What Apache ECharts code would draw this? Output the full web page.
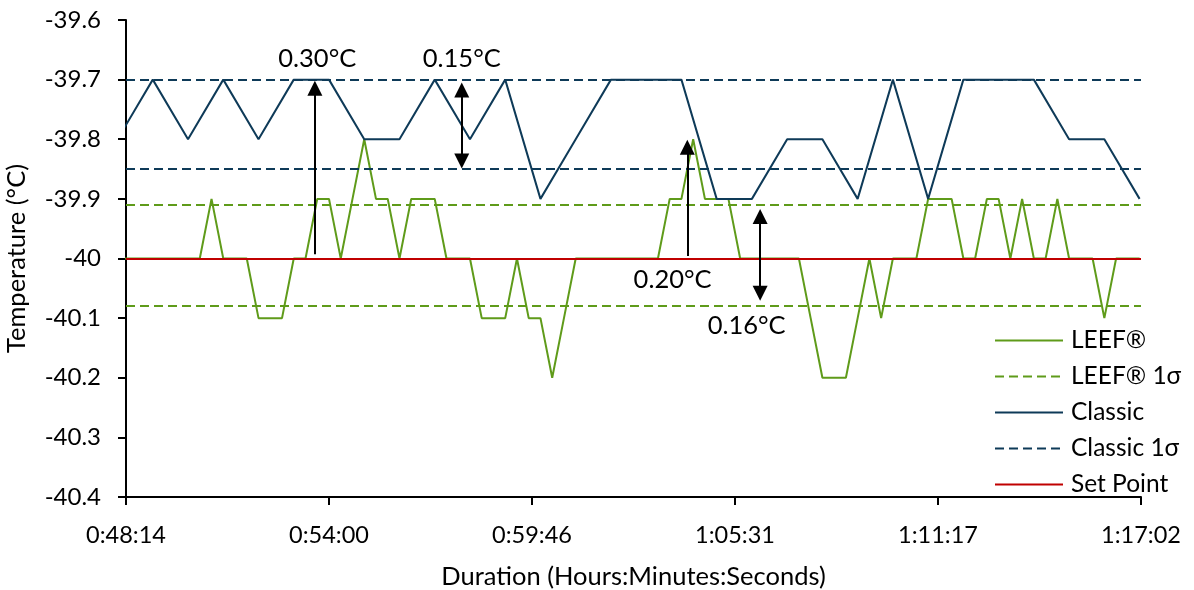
<!DOCTYPE html>
<html>
<head>
<meta charset="utf-8">
<script src="https://cdn.jsdelivr.net/npm/echarts@6/dist/echarts.min.js"></script>
<style>
html,body{margin:0;padding:0;background:#fff;}
#chart{width:1194px;height:590px;}
</style>
</head>
<body>
<div id="chart"></div>
<script>
// ---- data ----
const leefTimes = ["0:48:00","0:48:20","0:48:40","0:49:00","0:49:20","0:49:40","0:50:00","0:50:20","0:50:40","0:51:00",
"0:51:20","0:51:40","0:52:00","0:52:20","0:52:40","0:53:00","0:53:20","0:53:40","0:54:00","0:54:20",
"0:54:40","0:55:00","0:55:20","0:55:40","0:56:00","0:56:20","0:56:40","0:57:00","0:57:20","0:57:40",
"0:58:00","0:58:20","0:58:40","0:59:00","0:59:20","0:59:40","1:00:00","1:00:20","1:00:40","1:01:00",
"1:01:20","1:01:40","1:02:00","1:02:20","1:02:40","1:03:00","1:03:20","1:03:40","1:04:00","1:04:20",
"1:04:40","1:05:00","1:05:20","1:05:40","1:06:00","1:06:20","1:06:40","1:07:00","1:07:20","1:07:40",
"1:08:00","1:08:20","1:08:40","1:09:00","1:09:20","1:09:40","1:10:00","1:10:20","1:10:40","1:11:00",
"1:11:20","1:11:40","1:12:00","1:12:20","1:12:40","1:13:00","1:13:20","1:13:40","1:14:00","1:14:20",
"1:14:40","1:15:00","1:15:20","1:15:40","1:16:00","1:16:20","1:16:40","1:17:00"];
const leefValues = [-40,-40,-40,-40,-40,-40,-40,-40,-39.9,-40,
-40,-40,-40.1,-40.1,-40.1,-40,-40,-39.9,-39.9,-40,
-39.9,-39.8,-39.9,-39.9,-40,-39.9,-39.9,-39.9,-40,-40,
-40,-40.1,-40.1,-40.1,-40,-40.1,-40.1,-40.2,-40.1,-40,
-40,-40,-40,-40,-40,-40,-40,-39.9,-39.9,-39.8,
-39.9,-39.9,-39.9,-40,-40,-40,-40,-40,-40,-40.1,
-40.2,-40.2,-40.2,-40.1,-40,-40.1,-40,-40,-40,-39.9,
-39.9,-39.9,-40,-40,-39.9,-39.9,-40,-39.9,-40,-40,
-39.9,-40,-40,-40,-40.1,-40,-40,-40];
const classicTimes = ["0:48:00","0:49:00","0:50:00","0:51:00","0:52:00","0:53:00","0:54:00","0:55:00","0:56:00","0:57:00",
"0:58:00","0:59:00","1:00:00","1:01:00","1:02:00","1:03:00","1:04:00","1:05:00","1:06:00","1:07:00",
"1:08:00","1:09:00","1:10:00","1:11:00","1:12:00","1:13:00","1:14:00","1:15:00","1:16:00","1:17:00"];
const classicValues = [-39.8,-39.7,-39.8,-39.7,-39.8,-39.7,-39.7,-39.8,-39.8,-39.7,
-39.8,-39.7,-39.9,-39.8,-39.7,-39.7,-39.7,-39.9,-39.9,-39.8,
-39.8,-39.9,-39.7,-39.9,-39.7,-39.7,-39.7,-39.8,-39.8,-39.9];
const leefSigma = [-39.914, -40.077];
const classicSigma = [-39.701, -39.855];
const setPoint = -40;
const seriesNames = ["LEEF®","LEEF® 1σ","Classic","Classic 1σ","Set Point"];
// x axis: starts at 0:48:14.4, major unit 0:05:45.6
const xAxisStart = "0:48:14.4";
const xAxisSpan = "0:28:48";
const xAxisStep = "0:05:45.6";
const yTicks = [-40.4,-40.3,-40.2,-40.1,-40,-39.9,-39.8,-39.7,-39.6];
// annotations: [time, from, to, label, labelTime, labelValue, doubleHeaded]
const annotations = [
  ["0:53:36", -39.993, -39.702, "0.30°C", "0:53:40", -39.665, false],
  ["0:57:46", -39.849, -39.705, "0.15°C", "0:57:46", -39.665, true],
  ["1:04:10", -39.996, -39.801, "0.20°C", "1:03:45", -40.036, false],
  ["1:06:14", -40.071, -39.917, "0.16°C", "1:05:51", -40.113, true]
];

// ---- helpers ----
function toSec(s){const p=s.split(':').map(Number);return p[0]*3600+p[1]*60+p[2];}
const x0 = toSec(xAxisStart);
function rel(s){return toSec(s)-x0;}
function fmt(v){let t=Math.round(v+x0);const h=Math.floor(t/3600);t-=h*3600;const m=Math.floor(t/60);const s=t-m*60;
  return h+':'+String(m).padStart(2,'0')+':'+String(s).padStart(2,'0');}

const GREEN='#5f9b1a', NAVY='#0e3a58', RED='#c00000';
const FONT='Lato';
const yPerPx = 0.8/478; // only for arrow tip offset
const arrowSize = 15;

const chart = echarts.init(document.getElementById('chart'), null, {renderer:'canvas'});

const arrowLines = annotations.map(a => {
  const half = arrowSize/2*yPerPx;
  const dir = a[2] > a[1] ? 1 : -1;
  const from = a[6] ? a[1] + dir*half : a[1];
  const to = a[2] - dir*half;
  return [{coord:[rel(a[0]), from], symbol: a[6] ? 'triangle' : 'none'},
          {coord:[rel(a[0]), to], symbol:'triangle'}];
});
const labelPoints = annotations.map(a => ({coord:[rel(a[4]), a[5]], value:a[3]}));

const option = {
  animation:false,
  backgroundColor:'#fff',
  textStyle:{fontFamily:FONT},
  grid:{left:126, right:53, top:20, bottom:93, containLabel:false, outerBoundsMode:'none'},
  xAxis:{
    type:'value', min:0, max:toSec(xAxisSpan), interval:toSec(xAxisStep)-0,
    name:'Duration (Hours:Minutes:Seconds)', nameLocation:'middle', nameGap:67,
    nameTextStyle:{fontSize:25.5, color:'#000', fontFamily:FONT},
    axisLine:{show:true, onZero:false, lineStyle:{color:'#000', width:2}},
    axisTick:{show:true, inside:false, length:8, lineStyle:{color:'#000', width:2}},
    axisLabel:{formatter:fmt, fontSize:23.5, color:'#000', margin:26, fontFamily:FONT},
    splitLine:{show:false}
  },
  yAxis:{
    type:'value', min:yTicks[0], max:yTicks[yTicks.length-1], interval:0.1,
    name:'Temperature (°C)', nameLocation:'middle', nameGap:96,
    nameTextStyle:{fontSize:25.5, color:'#000', fontFamily:FONT},
    axisLine:{show:true, lineStyle:{color:'#000', width:2}},
    axisTick:{show:true, inside:false, length:8, lineStyle:{color:'#000', width:2}},
    axisLabel:{fontSize:24, color:'#000', margin:25, fontFamily:FONT, formatter:v=>String(Math.round(v*10)/10)},
    splitLine:{show:false}
  },
  legend:{
    orient:'vertical', left:989, top:323, itemWidth:68, itemHeight:14, itemGap:11,
    itemStyle:{opacity:0, borderWidth:0},
    textStyle:{fontSize:24.5, lineHeight:25, color:'#000', fontFamily:FONT, padding:[0,0,0,3]},
    data:seriesNames
  },
  series:[
    {name:seriesNames[0], type:'line', symbol:'none', z:3,
     data:leefTimes.map((t,i)=>[rel(t), leefValues[i]]),
     lineStyle:{color:GREEN, width:2}, itemStyle:{color:GREEN}},
    {name:seriesNames[1], type:'line', symbol:'none', data:[], z:2,
     lineStyle:{color:GREEN, width:2, type:[9,5]}, itemStyle:{color:GREEN},
     markLine:{silent:true, symbol:'none', label:{show:false},
       lineStyle:{color:GREEN, width:2, type:[9,5]},
       data:leefSigma.map(v=>({yAxis:v}))}},
    {name:seriesNames[2], type:'line', symbol:'none', z:3,
     data:classicTimes.map((t,i)=>[rel(t), classicValues[i]]),
     lineStyle:{color:NAVY, width:2}, itemStyle:{color:NAVY}},
    {name:seriesNames[3], type:'line', symbol:'none', data:[], z:2,
     lineStyle:{color:NAVY, width:2, type:[9,5]}, itemStyle:{color:NAVY},
     markLine:{silent:true, symbol:'none', label:{show:false},
       lineStyle:{color:NAVY, width:2, type:[9,5]},
       data:classicSigma.map(v=>({yAxis:v}))}},
    {name:seriesNames[4], type:'line', symbol:'none', data:[], z:4,
     lineStyle:{color:RED, width:2}, itemStyle:{color:RED},
     markLine:{silent:true, symbol:'none', label:{show:false}, z:4,
       lineStyle:{color:RED, width:2, type:'solid'},
       data:[{yAxis:setPoint}]}},
    {name:'annotations', type:'line', symbol:'none', data:[], z:10,
     markLine:{silent:true, symbolSize:arrowSize, label:{show:false},
       lineStyle:{color:'#000', width:2, type:'solid'}, itemStyle:{color:'#000'},
       data:arrowLines},
     markPoint:{silent:true, symbol:'circle', symbolSize:0,
       label:{show:true, position:'inside', formatter:p=>p.value, fontSize:25.5, color:'#000', fontFamily:FONT},
       data:labelPoints}}
  ]
};
chart.setOption(option);
</script>
</body>
</html>
